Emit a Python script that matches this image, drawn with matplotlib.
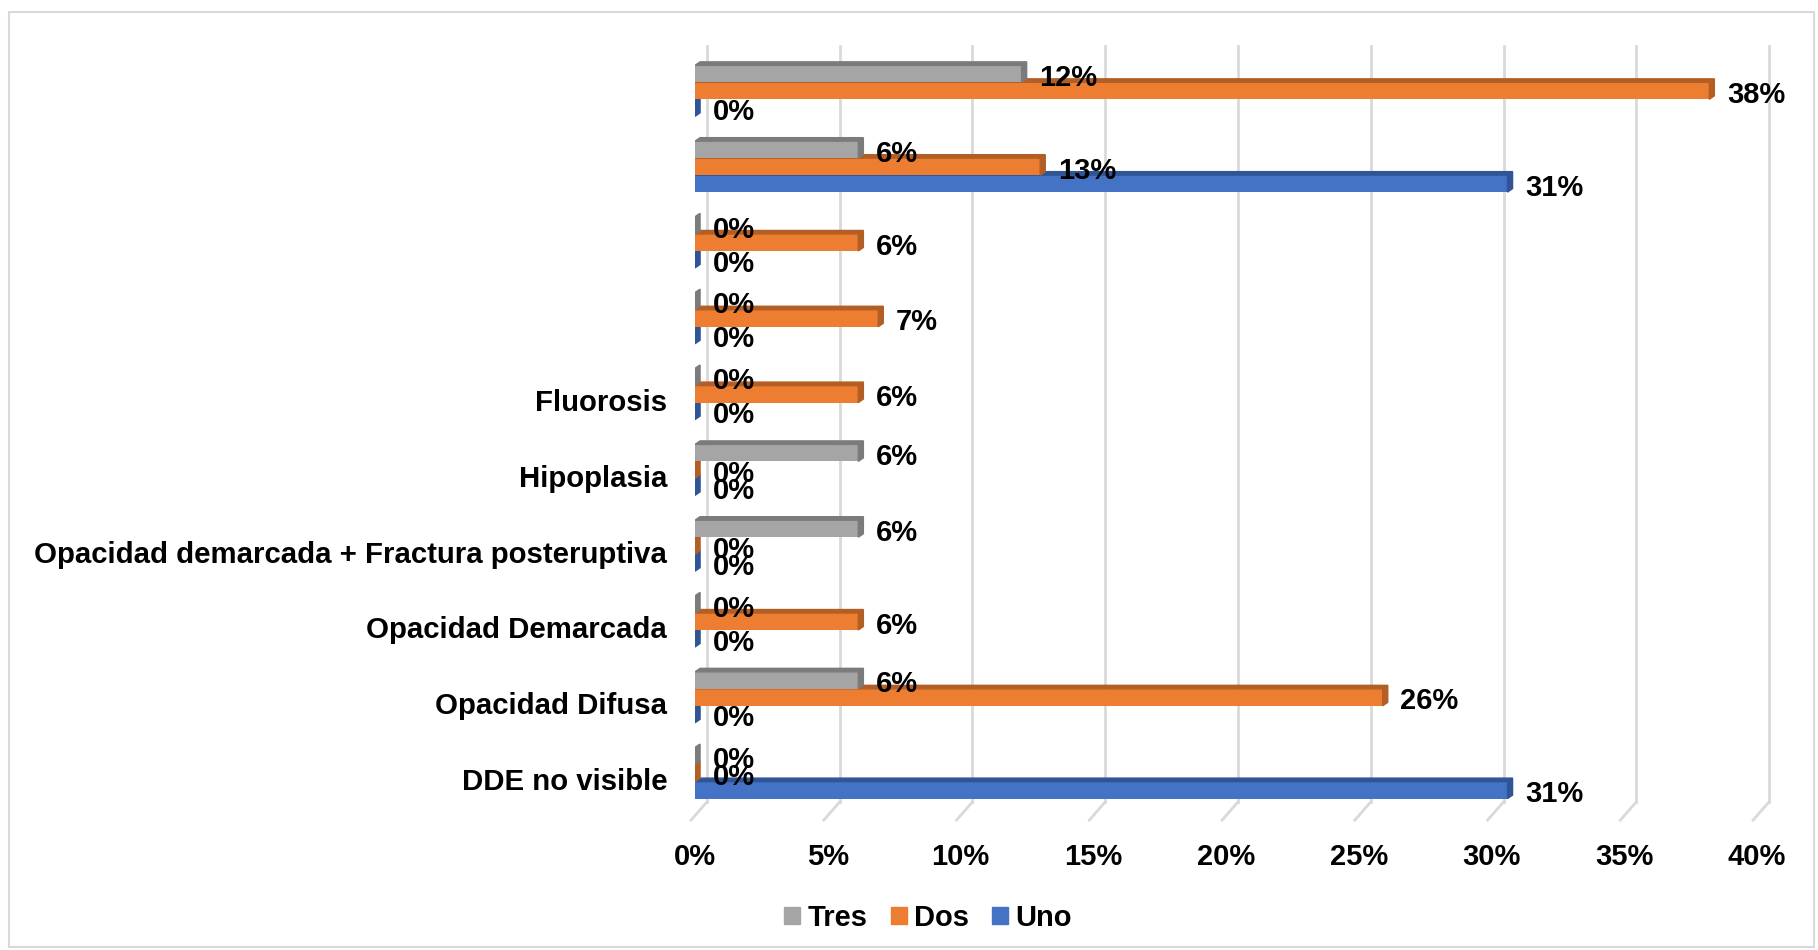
import numpy as np
import matplotlib
matplotlib.use("Agg")
import matplotlib.pyplot as plt
from matplotlib.patches import Polygon, Patch, Rectangle
from matplotlib.transforms import ScaledTranslation

plt.rcParams["font.family"] = ["Liberation Sans", "DejaVu Sans"]
plt.rcParams["font.weight"] = "bold"

# categories listed top to bottom as shown
categories = ["", "", "", "", "Fluorosis", "Hipoplasia",
              "Opacidad demarcada + Fractura posteruptiva",
              "Opacidad Demarcada", "Opacidad Difusa", "DDE no visible"]
tres = [12.3, 6.15, 0, 0, 0, 6.15, 6.15, 0, 6.15, 0]
dos = [38.2, 13.0, 6.15, 6.9, 6.15, 0, 0, 6.15, 25.9, 0]
uno = [0, 30.6, 0, 0, 0, 0, 0, 0, 0, 30.6]
series_names = ["Tres", "Dos", "Uno"]
xticks = list(range(0, 41, 5))

front = {"Tres": "#A5A5A5", "Dos": "#ED7D31", "Uno": "#4472C4"}
shade = {"Tres": "#7B7B7B", "Dos": "#B35E24", "Uno": "#2F5597"}

fig = plt.figure(figsize=(18.18, 9.5), dpi=100)
fig.patches.append(Rectangle((0.005, 0.003), 0.993, 0.984, transform=fig.transFigure,
                             fill=False, edgecolor="#D9D9D9", linewidth=1.5))
ax = fig.add_axes([0.3823, 0.1463, 0.5842, 0.798])
ax.set_xlim(0, 40)
ax.set_ylim(-0.5, len(categories) - 0.5)

ypos = np.arange(len(categories))[::-1]
h = 0.224
dx, dy = 0.19, 0.046  # 3d depth in data units

# back-wall gridlines and floor
for t in xticks:
    ax.plot([t + 0.45, t + 0.45], [-0.38, 9.59], color="#D9D9D9", lw=2, clip_on=False, zorder=0)
    ax.plot([t + 0.45, t - 0.15], [-0.38, -0.62], color="#D9D9D9", lw=2, clip_on=False, zorder=0)

offsets = {"Tres": h, "Dos": 0, "Uno": -h}
data = {"Tres": tres, "Dos": dos, "Uno": uno}
z = 3
for name in ["Uno", "Dos", "Tres"]:
    vals = data[name]
    bars = ax.barh(ypos + offsets[name], vals, height=h, color=front[name], zorder=z)
    for rect, v in zip(bars, vals):
        y0 = rect.get_y()
        y1 = y0 + rect.get_height()
        top = Polygon([(0, y1), (v, y1), (v + dx, y1 + dy), (dx, y1 + dy)],
                      closed=True, color=shade[name], zorder=z)
        side = Polygon([(v, y0), (v, y1), (v + dx, y1 + dy), (v + dx, y0 + dy)],
                       closed=True, color=shade[name], zorder=z)
        ax.add_patch(top)
        ax.add_patch(side)
    z += 1

for name in ["Uno", "Dos", "Tres"]:
    for yc, v in zip(ypos + offsets[name], data[name]):
        ax.annotate(f"{v:.0f}%", xy=(v + dx, yc), xytext=(9, -3), textcoords="offset points",
                    ha="left", va="center", fontsize=21, fontweight="bold", zorder=10)

ax.set_yticks(ypos)
ax.set_yticklabels(categories, fontsize=21.2, fontweight="bold")
ax.set_xticks(xticks)
ax.set_xticklabels([f"{t}%" for t in xticks], fontsize=21, fontweight="bold")
ax.tick_params(axis="y", length=0, pad=20)
ax.tick_params(axis="x", length=0, pad=23)
for s in ax.spines.values():
    s.set_visible(False)
shift = ScaledTranslation(0, -0.06, fig.dpi_scale_trans)
for lab in ax.get_yticklabels():
    lab.set_transform(lab.get_transform() + shift)

handles = [Patch(color=front[n]) for n in series_names]
fig.legend(handles, series_names, loc="center", bbox_to_anchor=(0.5105, 0.034),
           ncol=3, frameon=False, prop={"size": 21, "weight": "bold"},
           handlelength=0.55, handleheight=0.55, handletextpad=0.25, columnspacing=0.8)

fig.savefig("out.png", dpi=100)
